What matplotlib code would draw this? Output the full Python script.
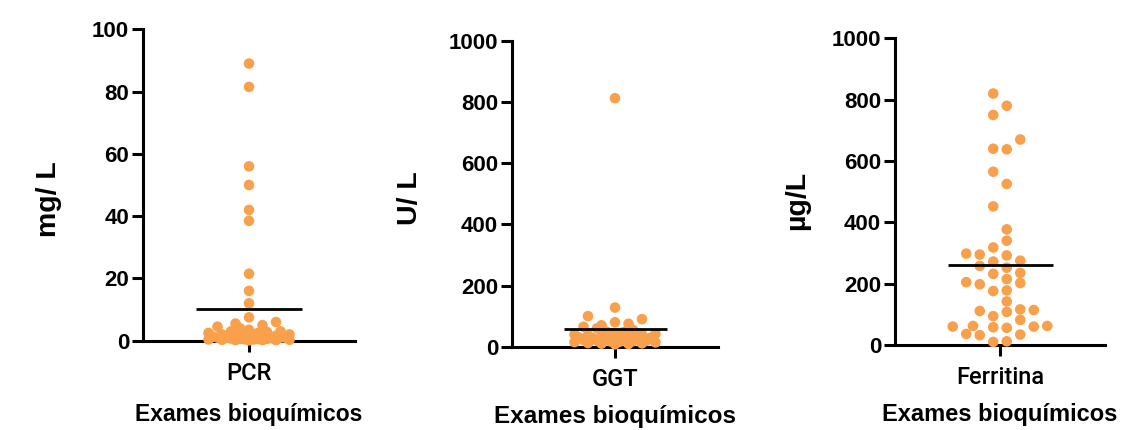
import numpy as np
import matplotlib
matplotlib.use("Agg")
import matplotlib.pyplot as plt

plt.rcParams['font.family'] = ['Liberation Sans', 'DejaVu Sans']

# dados
categorias = ['PCR', 'GGT', 'Ferritina']
unidades = ['mg/ L', 'U/ L', 'µg/L']
limites = [100, 1000, 1000]
passos = [20, 200, 200]
titulo_x = 'Exames bioquímicos'

pcr = [89, 81.5, 56, 50, 42, 38.5, 21.5, 16, 12, 7.5, 6, 5.5, 5, 4.5, 4, 3.5,
       3, 3, 2.8, 2.5, 2.5, 2.2, 2, 2, 1.8, 1.6, 1.5, 1.5, 1.3, 1.2, 1, 1,
       1, 0.9, 0.8, 0.7, 0.6, 0.6, 0.5, 0.5, 0.4, 0.4, 0.3, 0.3, 0.2, 0.2,
       0.2, 0.1]
ggt = [812, 128, 100, 90, 80, 75, 70, 65, 60, 55, 50, 48, 45, 42, 40, 40,
       38, 36, 35, 34, 32, 30, 30, 28, 27, 26, 25, 24, 22, 20, 20, 18, 17,
       16, 15, 14, 12, 11, 10, 9, 8]
ferritina = [820, 780, 750, 670, 640, 638, 565, 525, 452, 377, 340, 318,
             298, 295, 292, 275, 272, 258, 252, 235, 232, 215, 205, 202, 198,
             178, 176, 142, 116, 114, 111, 108, 94, 82, 62, 62, 60, 60, 58,
             56, 36, 34, 32, 12, 10]
series = [pcr, ggt, ferritina]
meia_coluna = [False, False, True]

laranja = '#F8A04B'
W, H = 1131, 430

# caixas dos eixos em pixels: esquerda, topo, direita, base
caixas = [(143, 29.3, 355, 340.7), (512, 40.7, 718, 346.7), (895, 38.3, 1105, 345)]
pos_ylabel = [(49, 199), (410, 198), (797, 200)]
pos_xlabel = [(249, 414), (615, 416), (1000, 415)]
tam_xlabel = [16.5, 17.5, 17]


def enxame(valores, escala_y, meio=False, passo=13.5, max_col=3, diam=10):
    # espalha os pontos em colunas, como no Prism; quando nao cabe, sobrepoe
    ys = np.asarray(valores, float) * escala_y
    px, py = [], []
    desloc = np.zeros(len(ys))
    if meio:
        base = [k + 0.5 for k in range(max_col + 1)]
    else:
        base = list(range(max_col + 1))
    fino = np.linspace(-max_col, max_col, 6 * max_col + 1)
    fino = fino[np.argsort(np.abs(fino), kind='stable')]
    for n, i in enumerate(np.argsort(ys)):
        lado = 1 if n % 2 else -1
        colunas = []
        for c in base:
            colunas += [c] if c == 0 else [lado * c, -lado * c]
        escolha = None
        for c in colunas:
            if all(abs(ys[i] - y) >= diam for x, y in zip(px, py) if x == c * passo):
                escolha = c * passo
                break
        if escolha is None:
            melhor = -1
            for c in fino:
                d = min(np.hypot(c * passo - x, ys[i] - y) for x, y in zip(px, py))
                if d > melhor + 0.5:
                    melhor, escolha = d, c * passo
        px.append(escolha)
        py.append(ys[i])
        desloc[i] = escolha
    return desloc


fig = plt.figure(figsize=(W / 100, H / 100), dpi=100)

for k in range(3):
    l, t, r, b = caixas[k]
    ax = fig.add_axes([l / W, 1 - b / H, (r - l) / W, (b - t) / H])
    vals = np.asarray(series[k], float)
    lim = limites[k]

    dx = enxame(vals, (b - t) / lim, meia_coluna[k])
    xs = dx / ((r - l) / 2)
    ax.scatter(xs, vals, s=58, color=laranja, edgecolors='none', zorder=3, clip_on=False)
    ax.hlines(vals.mean(), -0.5, 0.5, color='black', lw=2.0, zorder=4)

    ax.set_xlim(-1, 1)
    ax.set_ylim(0, lim)
    ax.set_yticks(np.arange(0, lim + 1, passos[k]))
    ax.set_xticks([0])
    ax.set_xticklabels([categorias[k]], fontsize=17, family=['Roboto', 'Liberation Sans'],
                       fontweight='medium')
    for lab in ax.get_yticklabels():
        lab.set_fontweight('bold')
        lab.set_fontsize(16)
    ax.tick_params(width=2.2, length=8, pad=2, colors='black')
    ax.tick_params(axis='x', pad=7)
    for lado in ['top', 'right']:
        ax.spines[lado].set_visible(False)
    for lado in ['left', 'bottom']:
        ax.spines[lado].set_linewidth(2.2)

    fig.text(pos_ylabel[k][0] / W, 1 - pos_ylabel[k][1] / H, unidades[k], rotation=90,
             ha='center', va='center', fontsize=20.5, fontweight='bold')
    fig.text(pos_xlabel[k][0] / W, 1 - pos_xlabel[k][1] / H, titulo_x,
             ha='center', va='center', fontsize=tam_xlabel[k], fontweight='bold')

fig.savefig('out.png', dpi=100)
